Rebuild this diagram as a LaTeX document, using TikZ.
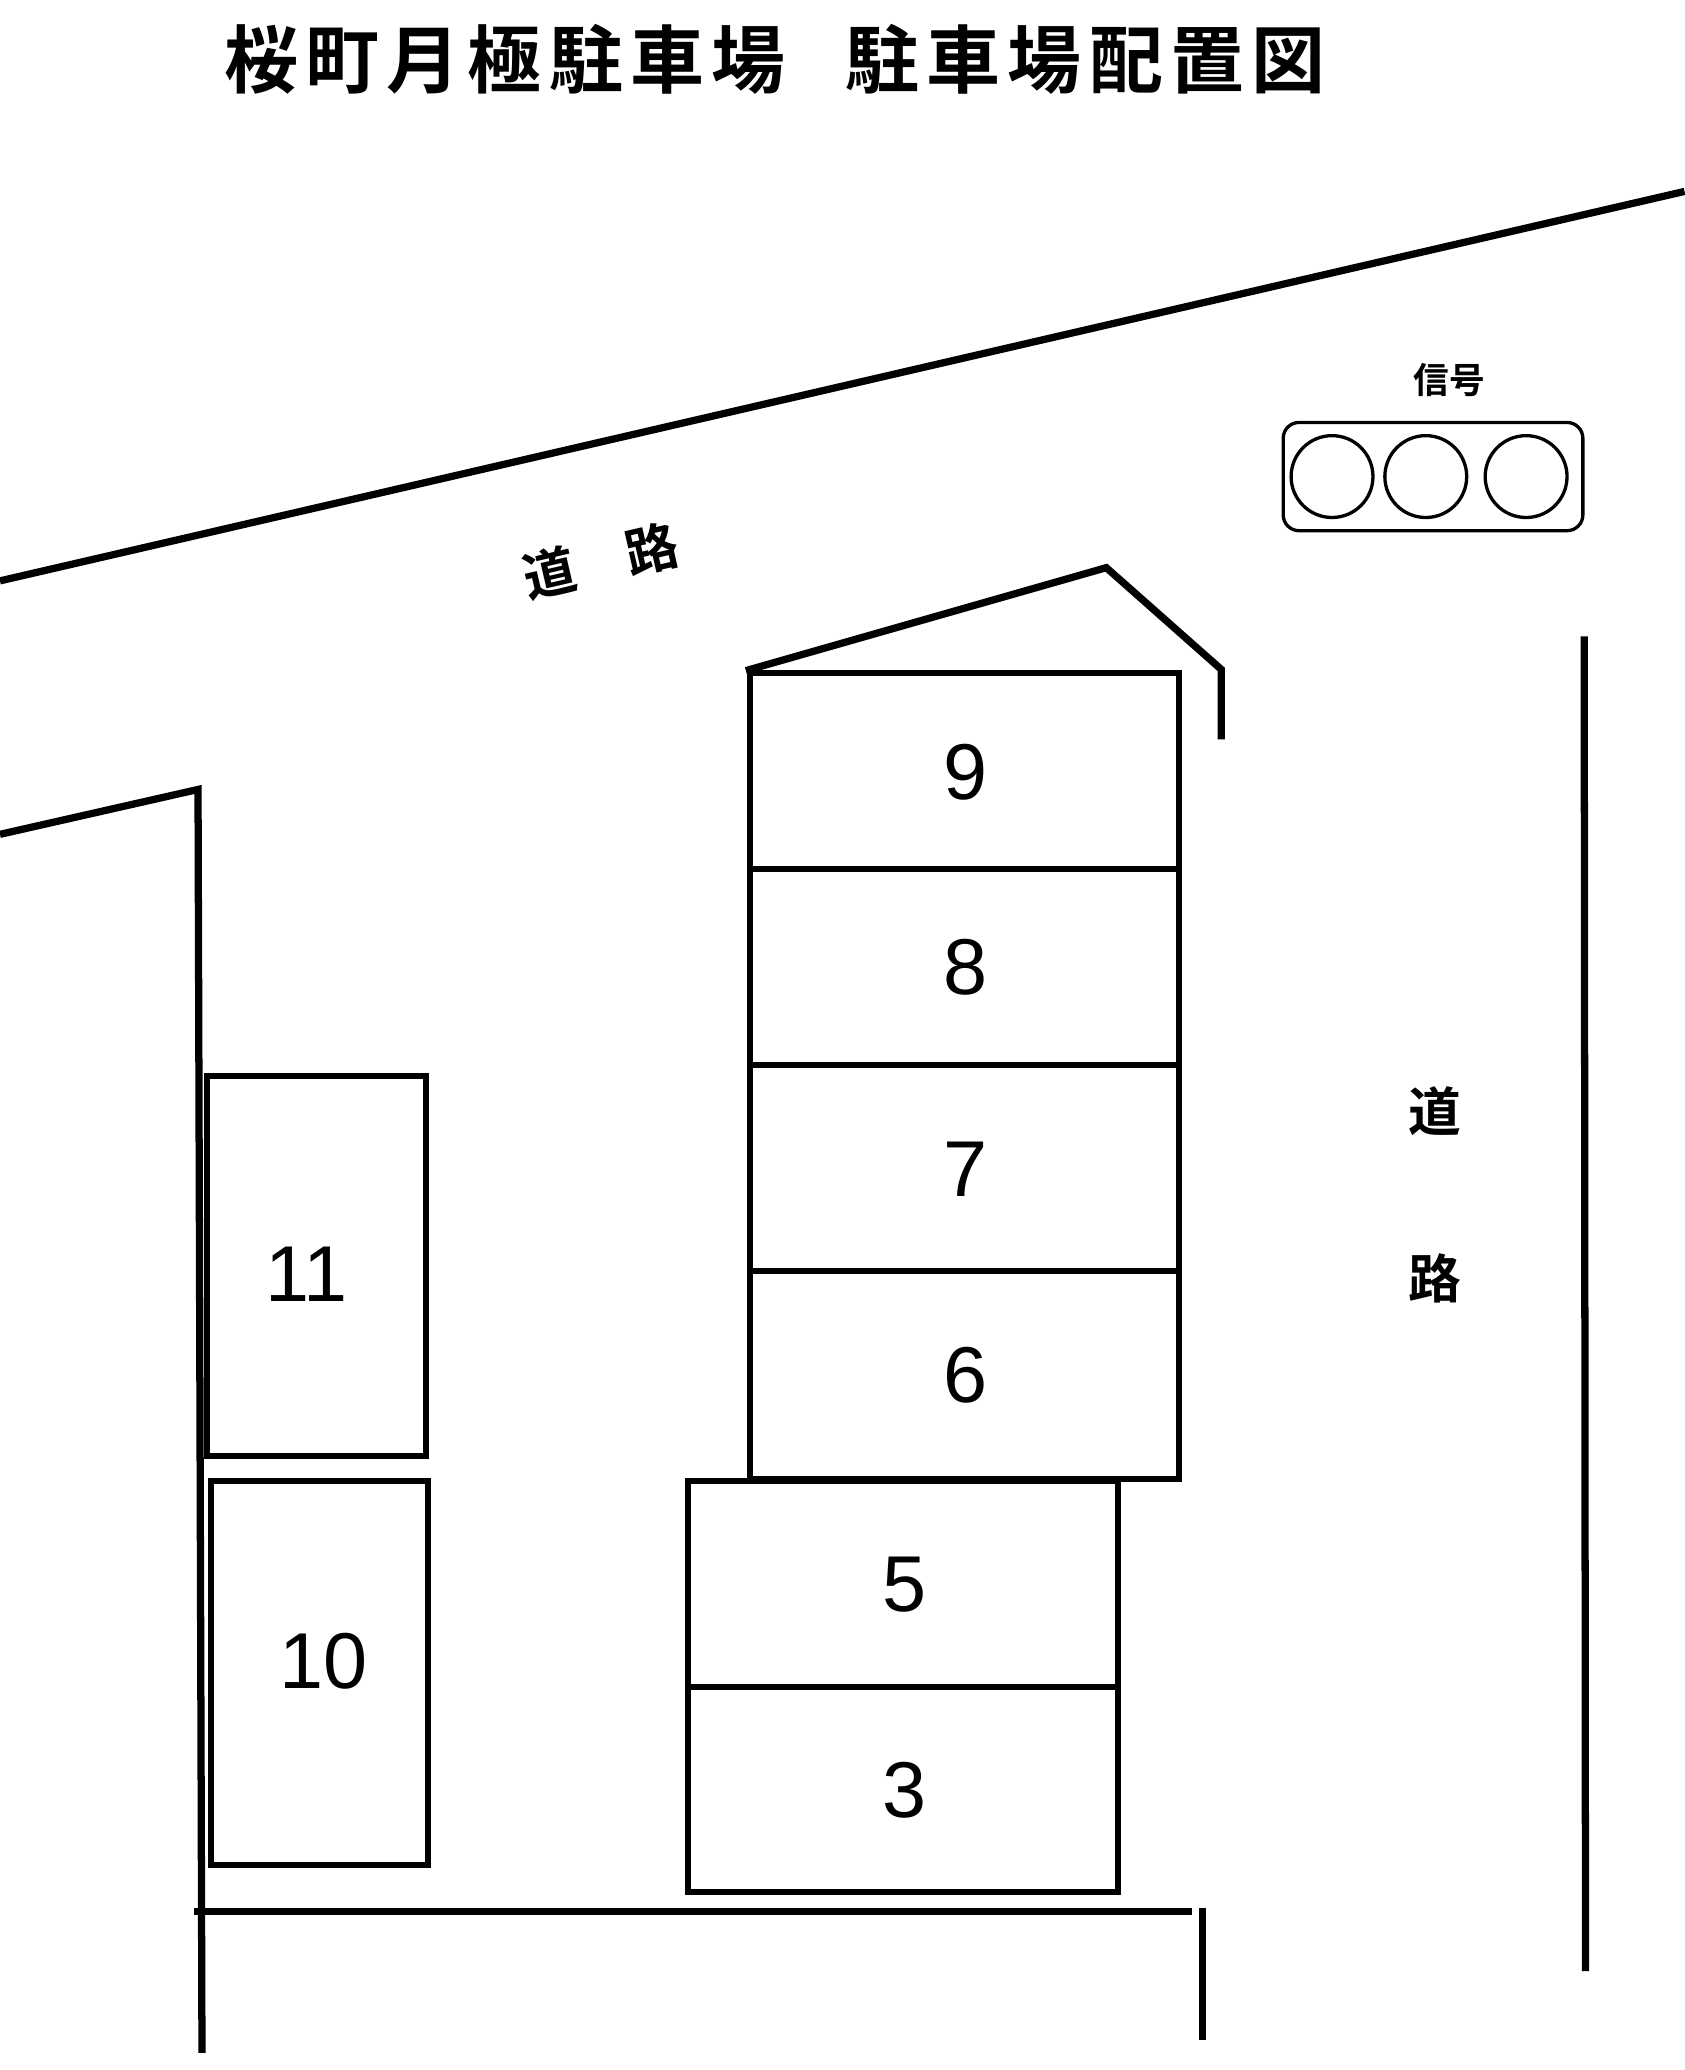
\documentclass[tikz,border=0pt]{standalone}
\usepackage{fontspec}
\setmainfont{Liberation Sans}
\newfontfamily\jpb{Noto Sans CJK JP Bold}
\newfontfamily\jpt[LetterSpace=10]{Noto Sans CJK JP Bold}
\begin{document}
\begin{tikzpicture}[x=1pt,y=-1pt,
  ln/.style={line width=5.5pt},
  bl/.style={line width=4.5pt},
  num/.style={font=\fontsize{60}{60}\selectfont},
  jt/.style={font=\jpb\fontsize{40}{40}\selectfont}]
\useasboundingbox[fill=white] (0,0) rectangle (1276,1568);
\node[font=\jpt\fontsize{56}{56}\selectfont,inner sep=0pt] (title) at (587,45) {桜町月極駐車場\kern 45pt 駐車場配置図};
\coordinate (r1) at (0,440); \coordinate (r2) at (1276,145);
\draw[ln] (r1) -- (r2);
\node[jt,rotate=13] (road1) at (455,425) {道　路};
\node[font=\jpb\fontsize{27}{27}\selectfont] (sigl) at (1098,288) {信号};
\draw[line width=2.5pt,rounded corners=12pt] (972,320) rectangle (1199,402);
\foreach \x in {1009,1080,1156} \draw[line width=2.5pt] (\x,361) circle (31);
\coordinate (b1) at (565,508); \coordinate (b2) at (838,430); \coordinate (b3) at (925,507); \coordinate (b4) at (925,560);
\draw[ln] (b1) -- (b2) -- (b3) -- (b4);
\draw[bl] (568,510) rectangle (893,1120);
\foreach \y in {658,807,963} \draw[bl] (568,\y) -- (893,\y);
\node[num] (n9) at (731,585) {9};
\node[num] (n8) at (731,733) {8};
\node[num] (n7) at (731,886) {7};
\node[num] (n6) at (731,1042) {6};
\draw[bl] (521,1122) rectangle (847,1433);
\draw[bl] (521,1278) -- (847,1278);
\node[num] (n5) at (685,1200) {5};
\node[num] (n3) at (685,1356) {3};
\coordinate (l1) at (0,632); \coordinate (l2) at (150,598); \coordinate (l3) at (153,1555);
\draw[ln] (l1) -- (l2) -- (l3);
\draw[bl] (157,815) rectangle (323,1103);
\draw[bl] (160,1122) rectangle (324,1413);
\node[num] (n11) at (232,965) {11};
\node[num] (n10) at (245,1258) {10};
\coordinate (g1) at (147,1448); \coordinate (g2) at (903,1448);
\draw[ln] (g1) -- (g2);
\coordinate (h1) at (911,1445); \coordinate (h2) at (911,1545);
\draw[ln] (h1) -- (h2);
\coordinate (v1) at (1200,482); \coordinate (v2) at (1201,1493);
\draw[ln] (v1) -- (v2);
\node[jt] (road2) at (1087,842) {道};
\node[jt] (road3) at (1087,968) {路};
\end{tikzpicture}
\end{document}
